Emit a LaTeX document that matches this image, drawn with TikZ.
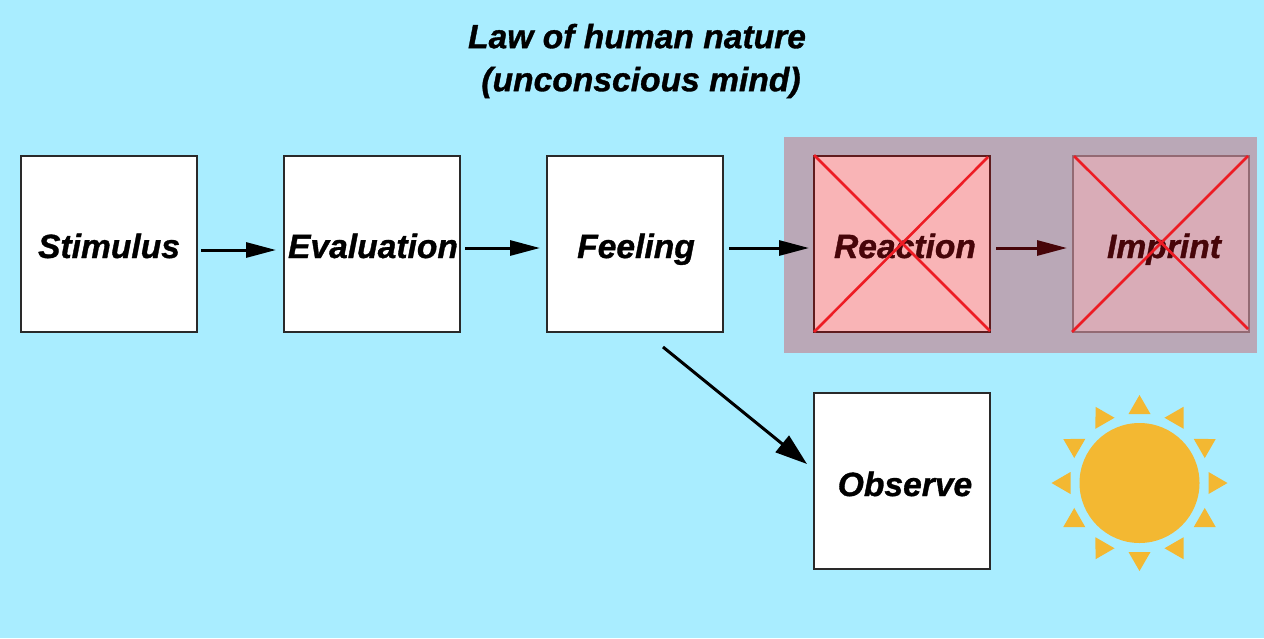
\documentclass[tikz,border=0pt]{standalone}
\usepackage{fontspec}
\setmainfont[BoldItalicFeatures={FakeBold=1}]{Liberation Sans}
\usetikzlibrary{arrows.meta}
\definecolor{skybg}{HTML}{A9EDFF}
\definecolor{overlaybg}{HTML}{BAA8B7}
\definecolor{frame}{HTML}{2A2A2A}
\definecolor{crossred}{HTML}{ED1C24}
\definecolor{darkred}{HTML}{470509}
\definecolor{sunorange}{HTML}{F3B832}
\definecolor{reactframe}{HTML}{601C1E}
\definecolor{reactfill}{HTML}{F9B4B6}
\definecolor{imprintframe}{HTML}{936A73}
\definecolor{imprintfill}{HTML}{D9ACB7}
\tikzset{
  base font/.style={font=\fontsize{33.6}{43}\selectfont\bfseries\itshape},
  stepbox/.style={draw=frame,fill=white,line width=2pt,minimum size=176pt,inner sep=0pt,outer sep=0pt,
    base font,text height=28pt,text depth=0pt,text=black},
  reactbox/.style={stepbox,draw=reactframe,fill=reactfill,text=darkred},
  imprintbox/.style={stepbox,draw=imprintframe,fill=imprintfill,text=darkred},
  flow/.style={line width=3pt,draw=black,-{Triangle[length=30pt,width=15pt]}},
  flowdark/.style={flow,draw=darkred},
  crossline/.style={draw=crossred,line width=2.6pt},
}
\begin{document}
\begin{tikzpicture}[x=1pt,y=-1pt]
\useasboundingbox (0,0) rectangle (1264,638);
\fill[skybg] (0,0) rectangle (1264,638);
\fill[overlaybg] (784,137) rectangle (1257,353);

\node[base font,align=center,text=black] (title) at (637,61) {Law of human nature\\\hspace*{8pt}(unconscious mind)};

\node[stepbox] (stim) at (109,244) {Stimulus};
\node[stepbox] (eval) at (372,244) {\hspace*{2pt}Evaluation};
\node[stepbox] (feel) at (635,244) {\hspace*{2pt}Feeling};
\node[reactbox] (react) at (902,244) {\hspace*{6pt}Reaction};
\node[imprintbox] (impr) at (1161,244) {\hspace*{6pt}Imprint};
\node[stepbox,text height=30pt] (obs) at (902,481) {\hspace*{6pt}Observe};

\draw[flow] ([shift={(4,6)}]stim.east) -- ([shift={(-8,6)}]eval.west);
\draw[flow] ([shift={(5,4)}]eval.east) -- ([shift={(-7,4)}]feel.west);
\draw[flow] ([shift={(6,4)}]feel.east) -- ([shift={(-5,4)}]react.west);
\draw[flowdark] ([shift={(6,4)}]react.east) -- ([shift={(-6,4)}]impr.west);
\draw[line width=3pt,-{Triangle[length=32pt,width=21pt]}] ([shift={(28,15)}]feel.south) -- ([shift={(-7,-17)}]obs.west);

\draw[crossline] ([shift={(0,-1)}]react.north west) -- ([shift={(0,-1)}]react.south east);
\draw[crossline] (react.south west) -- ([shift={(-2,1)}]react.north east);
\draw[crossline] ([shift={(1,0)}]impr.north west) -- ([shift={(-1,-3)}]impr.south east);
\draw[crossline] ([shift={(-1,0)}]impr.south west) -- ([shift={(-1,0)}]impr.north east);

\fill[sunorange] (1139.5,483) circle (60);
\foreach \a in {0,30,...,330}{
  \fill[sunorange,shift={(1139.5,483)},rotate=\a] (69,-11) -- (88,0) -- (69,11) -- cycle;
}
\end{tikzpicture}
\end{document}
